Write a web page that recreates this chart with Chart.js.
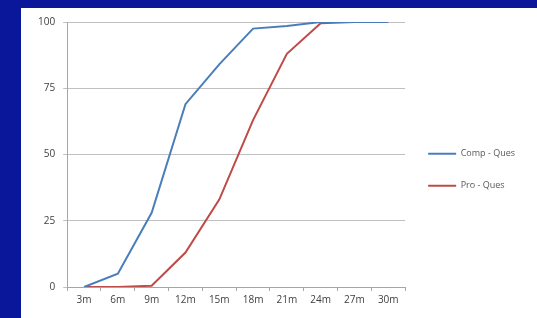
<!DOCTYPE html>
<html>
<head>
<meta charset="utf-8">
<script src="https://cdn.jsdelivr.net/npm/chart.js@4.4.1/dist/chart.umd.min.js"></script>
<style>
  html, body { margin: 0; padding: 0; background: #0b179b; }
  #wrap { position: absolute; left: 21px; top: 8px; width: 516px; height: 310px; background: #fff; }
</style>
</head>
<body>
<div id="wrap"><canvas id="chart"></canvas></div>
<script>
const categories = ['3m', '6m', '9m', '12m', '15m', '18m', '21m', '24m', '27m', '30m'];
const compQues = [0, 5, 28, 69, 84, 97.5, 98.5, 100, 100, 100];
const proQues = [0, 0, 0.5, 13, 33, 63, 88, 99.5, 100, 100];
const yTicks = [0, 25, 50, 75, 100];

const ctx = document.getElementById('chart').getContext('2d');

new Chart(ctx, {
    type: 'line',
    data: {
        labels: categories,
        datasets: [
            {
                label: 'Comp - Ques',
                data: compQues,
                borderColor: '#4a7ebb',
                backgroundColor: '#4a7ebb',
                borderWidth: 2,
                pointRadius: 0,
                tension: 0,
                fill: false
            },
            {
                label: 'Pro - Ques',
                data: proQues,
                borderColor: '#be4b48',
                backgroundColor: '#be4b48',
                borderWidth: 2,
                pointRadius: 0,
                tension: 0,
                fill: false
            }
        ]
    },
    options: {
        responsive: true,
        maintainAspectRatio: false,
        animation: false,
        layout: { padding: { left: 9, top: 13, right: 12, bottom: 9 } },
        plugins: {
            tooltip: { enabled: false },
            legend: {
                position: 'right',
                // empty title just pushes the items down a few px
                title: { display: true, text: ' ', padding: 0, font: { size: 8 } },
                labels: {
                    usePointStyle: true,
                    pointStyle: 'line',
                    pointStyleWidth: 28,
                    color: '#595959',
                    font: { family: 'Open Sans', size: 9 },
                    padding: 23
                }
            }
        },
        scales: {
            x: {
                offset: true,
                grid: { display: true, drawOnChartArea: false, offset: true, tickLength: 4, color: '#a6a6a6' },
                border: { color: '#a6a6a6' },
                ticks: { color: '#404040', font: { family: 'Open Sans', size: 10 }, maxRotation: 0, padding: 3 }
            },
            y: {
                min: 0,
                max: 100,
                afterBuildTicks: (axis) => { axis.ticks = yTicks.map(v => ({ value: v })); },
                grid: { color: '#c0c0c0', tickLength: 4 },
                border: { color: '#a6a6a6' },
                ticks: { color: '#404040', font: { family: 'Open Sans', size: 10 }, padding: 8 }
            }
        }
    }
});
</script>
</body>
</html>
